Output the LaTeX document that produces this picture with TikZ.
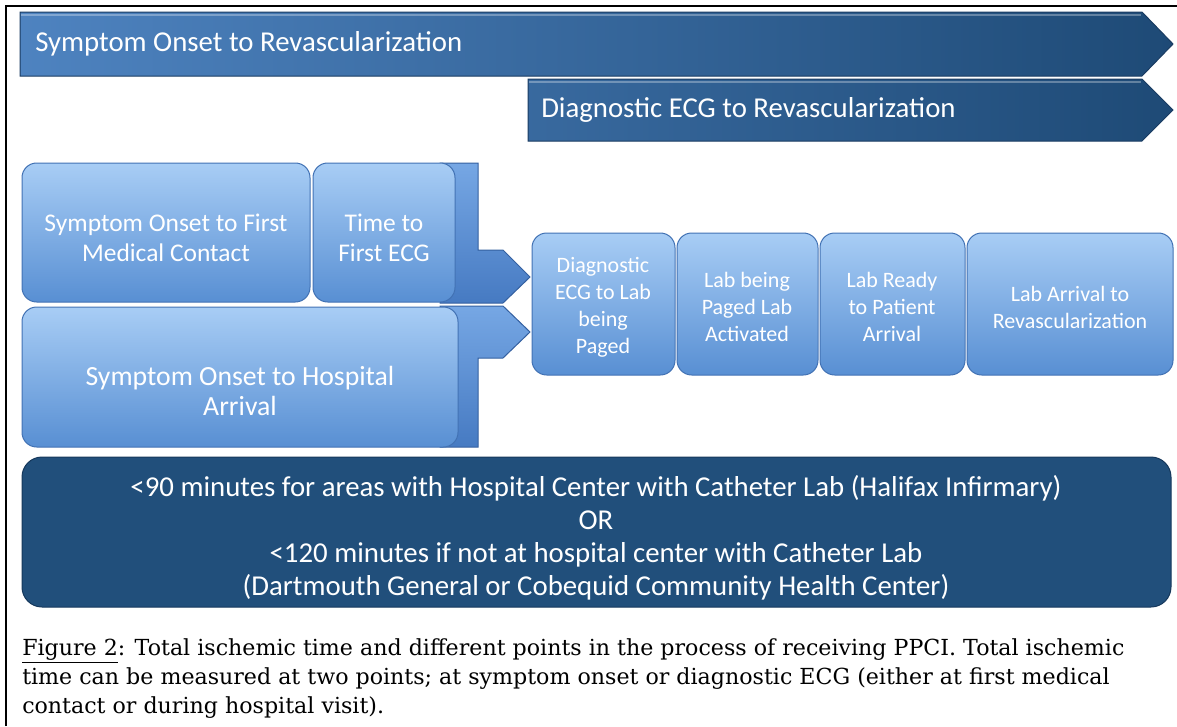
\documentclass[tikz,border=0pt]{standalone}
\usepackage{fontspec}
\setmainfont{Carlito}
\newfontfamily\capfont{DejaVu Serif}

\definecolor{arrowLeft}{RGB}{78,131,192}
\definecolor{arrowRight}{RGB}{30,74,118}
\definecolor{arrowEdge}{RGB}{26,60,98}
\definecolor{boxTop}{RGB}{168,205,245}
\definecolor{boxBottom}{RGB}{88,143,211}
\definecolor{boxEdge}{RGB}{66,114,180}
\definecolor{backTop}{RGB}{118,167,228}
\definecolor{backBottom}{RGB}{70,122,194}
\definecolor{backEdge}{RGB}{52,96,160}
\definecolor{noteFill}{RGB}{33,79,123}
\definecolor{noteEdge}{RGB}{22,56,92}

\begin{document}
\begin{tikzpicture}[x=0.75pt,y=0.75pt,yscale=-1,xscale=1,
  chevron/.style={draw=arrowEdge, line width=0.75, left color=arrowLeft, right color=arrowRight},
  lightbox/.style={draw=boxEdge, line width=0.75, rounded corners=11pt, top color=boxTop, bottom color=boxBottom},
  backshape/.style={draw=backEdge, line width=0.75, top color=backTop, bottom color=backBottom},
  notebox/.style={draw=noteEdge, line width=0.75, rounded corners=15pt, fill=noteFill},
  chevtext/.style={anchor=west, inner sep=0.75pt, text=white, font=\fontsize{21.6}{26}\selectfont},
  stagetext/.style={inner sep=0.75pt, text=white, align=center, font=\fontsize{16.5}{20.25}\selectfont},
  lefttext/.style={inner sep=0.75pt, text=white, align=center, font=\fontsize{19.1}{22.5}\selectfont},
  captext/.style={anchor=base west, inner sep=0pt, font=\capfont\fontsize{16.6}{22}\selectfont}
]
\useasboundingbox (0,0) rectangle (1177,726);

%Straight Lines: frame
\draw [line width=2.2] (6,726) -- (6,6) -- (1177,6) ;

%Shape: Chevron
\draw [chevron] (20,12) -- (1142,12) -- (1173,44) -- (1142,76) -- (20,76) -- cycle ;
\draw [white, opacity=0.3, line width=1.5] (21,15) -- (1141,15) ;
%Shape: Chevron
\draw [chevron, left color=arrowLeft!55!arrowRight] (528,79) -- (1142,79) -- (1173,110) -- (1142,141) -- (528,141) -- cycle ;
\draw [white, opacity=0.3, line width=1.5] (529,82) -- (1141,82) ;

%Shape: Polygon
\draw [backshape] (440,163) -- (478,163) -- (478,250) -- (503,250) -- (530,277) -- (503,303) -- (440,303) -- cycle ;
%Shape: Polygon
\draw [backshape] (440,306) -- (503,306) -- (530,332) -- (503,358) -- (478,358) -- (478,447) -- (440,447) -- cycle ;

%Shape: Rounded Rect
\draw [lightbox] (22,163) rectangle (310,302) ;
\draw [lightbox] (313,163) rectangle (455,302) ;
\draw [lightbox] (22,307) rectangle (458,447) ;

%Shape: Rounded Rect
\draw [lightbox] (532,233) rectangle (675,375) ;
\draw [lightbox] (677,233) rectangle (818,375) ;
\draw [lightbox] (820,233) rectangle (965,375) ;
\draw [lightbox] (967,233) rectangle (1173,375) ;

%Shape: Rounded Rect
\draw [notebox] (22,457) rectangle (1171,607) ;

% Text Node
\draw (34,44) node (sorev) [chevtext] {Symptom Onset to Revascularization};
% Text Node
\draw (540,110) node (ecgrev) [chevtext] {Diagnostic ECG to Revascularization};

% Text Node
\draw (166,238) node (sofmc) [lefttext] {Symptom Onset to First\\Medical Contact};
% Text Node
\draw (384,238) node (tfecg) [lefttext] {Time to\\First ECG};
% Text Node
\draw (240,391) node (soha) [lefttext, font=\fontsize{20.8}{22.5}\selectfont] {Symptom Onset to Hospital\\Arrival};

% Text Node
\draw (603,307) node (ecglab) [stagetext] {Diagnostic\\ECG to Lab\\being\\Paged};
% Text Node
\draw (747,307) node (labact) [stagetext] {Lab being\\Paged Lab\\Activated};
% Text Node
\draw (892,307) node (labrdy) [stagetext] {Lab Ready\\to Patient\\Arrival};
% Text Node
\draw (1070,307) node (labarr) [stagetext] {Lab Arrival to\\Revascularization};

% Text Node
\draw (596,538) node (target) [inner sep=0.75pt, text=white, align=center, font=\fontsize{21.6}{24.75}\selectfont]
  {<90 minutes for areas with Hospital Center with Catheter Lab (Halifax Infirmary)\\OR\\<120 minutes if not at hospital center with Catheter Lab\\(Dartmouth General or Cobequid Community Health Center)};

% Text Node
\draw (22,655) node (cap1) [captext] {\underline{Figure 2}: Total ischemic time and different points in the process of receiving PPCI. Total ischemic};
\draw (22,684) node (cap2) [captext] {time can be measured at two points; at symptom onset or diagnostic ECG (either at first medical};
\draw (22,713) node (cap3) [captext] {contact or during hospital visit).};

\end{tikzpicture}
\end{document}
